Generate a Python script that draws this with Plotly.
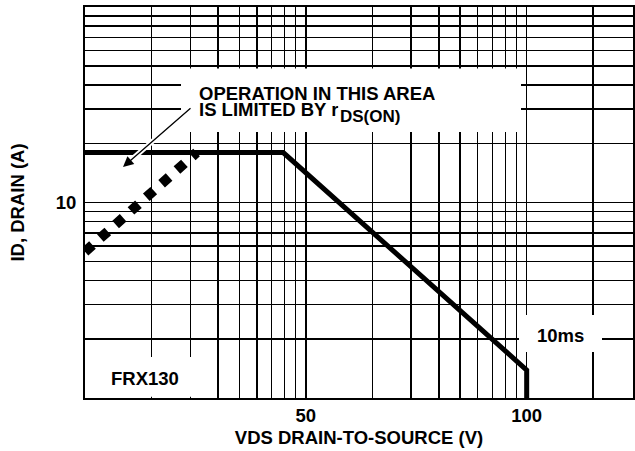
import math
import plotly.graph_objects as go

# ---- data ----
vds_limit = [1, 7.9, 100, 100]          # V (axis units)
id_limit = [18, 18, 1.39, 1]            # A
vds_rds = [1, 3.2]
id_rds = [5.6, 18]

x_grid = [1, 2, 3, 4, 5, 6, 7, 8, 9, 10, 20, 30, 40, 50, 60, 70, 80, 90, 100, 200, 300]
x_labels = {10: "50", 100: "100"}
y_grid = [1, 2, 3, 4, 5, 6, 7, 8, 9, 10, 20, 30, 40, 50, 60, 70, 80, 90, 100]
y_labels = {10: "10"}

FONT = "Liberation Sans, Arial, Helvetica, sans-serif"
FS = 18.5
W, H = 635, 451
L, R, T, B = 85, 2, 7, 53
PW, PH = W - L - R, H - T - B


def px2paper_x(px):
    return (px - L) / PW


def px2paper_y(py):
    return (H - B - py) / PH


bold = dict(family=FONT, size=FS, color="black", weight="bold")

fig = go.Figure()
fig.add_trace(go.Scatter(x=vds_rds, y=id_rds, mode="lines",
                         line=dict(color="black", width=10, dash="10px,10.5px"),
                         hoverinfo="skip", showlegend=False))
fig.add_trace(go.Scatter(x=vds_limit, y=id_limit, mode="lines",
                         line=dict(color="black", width=5),
                         hoverinfo="skip", showlegend=False))

shapes = []
# white label boxes (hide grid only; traces do not cross them)
for (x0, x1, y0, y1) in [(181, 521, 68.5, 132), (519, 602, 315, 352), (86.2, 205, 357, 396.8)]:
    shapes.append(dict(type="rect", xref="paper", yref="paper",
                       x0=px2paper_x(x0), x1=px2paper_x(x1),
                       y0=px2paper_y(y1), y1=px2paper_y(y0),
                       fillcolor="white", line=dict(width=0), layer="above"))
# white halo behind arrow
tip = (123, 167)
tail = (192, 107)
shapes.append(dict(type="line", xref="paper", yref="paper",
                   x0=px2paper_x(tail[0]), y0=px2paper_y(tail[1]),
                   x1=px2paper_x(tip[0] + 8), y1=px2paper_y(tip[1] - 7),
                   line=dict(color="white", width=5), layer="above"))

annotations = [
    dict(xref="paper", yref="paper", x=px2paper_x(198), y=px2paper_y(93),
         text="OPERATION IN THIS AREA", showarrow=False, xanchor="left", yanchor="middle",
         height=15, borderpad=0, font=bold),
    dict(xref="paper", yref="paper", x=px2paper_x(198), y=px2paper_y(110),
         text="IS LIMITED BY r", showarrow=False, xanchor="left", yanchor="middle",
         height=15, borderpad=0, font=bold),
    dict(xref="paper", yref="paper", x=px2paper_x(338), y=px2paper_y(116.5),
         text="DS(ON)", showarrow=False, xanchor="left", yanchor="middle",
         font=dict(family=FONT, size=17, color="black", weight="bold")),
    dict(xref="paper", yref="paper", x=px2paper_x(tip[0]), y=px2paper_y(tip[1]),
         ax=tail[0] - tip[0], ay=tail[1] - tip[1], axref="pixel", ayref="pixel",
         text="", showarrow=True, arrowhead=2, arrowsize=1.6, arrowwidth=1.3, arrowcolor="black"),
    dict(xref="paper", yref="paper", x=px2paper_x(145), y=px2paper_y(378),
         text="FRX130", showarrow=False, xanchor="center", yanchor="middle", font=bold),
    dict(xref="paper", yref="paper", x=px2paper_x(560), y=px2paper_y(335),
         text="10ms", showarrow=False, xanchor="center", yanchor="middle", font=bold),
]

fig.update_layout(
    width=W, height=H, margin=dict(l=L, r=R, t=T, b=B, autoexpand=False),
    paper_bgcolor="white", plot_bgcolor="white",
    shapes=shapes, annotations=annotations,
    xaxis=dict(type="log", range=[0, math.log10(303)],
               tickmode="array", tickvals=x_grid,
               ticktext=[x_labels.get(v, "") for v in x_grid],
               showgrid=True, gridcolor="black", gridwidth=1.5,
               showline=True, linecolor="black", linewidth=2, mirror=True,
               ticks="", tickfont=bold, zeroline=False, automargin=False,
               title=dict(text="VDS DRAIN-TO-SOURCE (V)", standoff=6, font=bold)),
    yaxis=dict(type="log", range=[0, 2],
               tickmode="array", tickvals=y_grid,
               ticktext=[y_labels.get(v, "") for v in y_grid],
               showgrid=True, gridcolor="black", gridwidth=1.5,
               showline=True, linecolor="black", linewidth=2, mirror=True,
               ticks="", tickfont=bold, zeroline=False, automargin=False,
               ticklabelstandoff=3,
               title=dict(text="ID, DRAIN (A)", standoff=26, font=bold)),
)

fig.write_html("out.html", config={"displayModeBar": False, "staticPlot": True},
               post_script="document.body.style.margin='0';document.body.style.padding='0';"
                           "document.body.style.overflow='hidden';")
